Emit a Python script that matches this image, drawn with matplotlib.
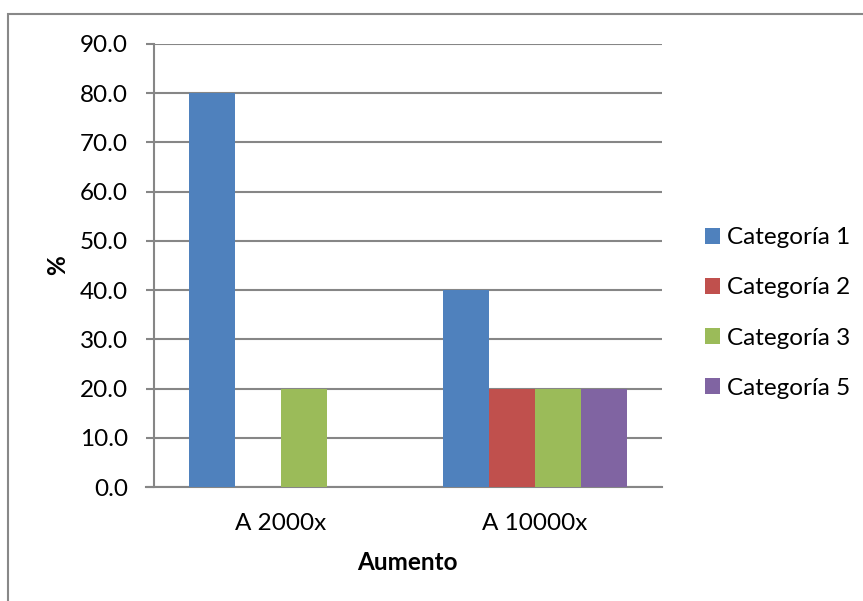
import matplotlib
matplotlib.use("Agg")
import matplotlib.pyplot as plt
from matplotlib.patches import Patch, Rectangle
import numpy as np

plt.rcParams['font.family'] = ['Lato', 'DejaVu Sans']

groups = ["A 2000x", "A 10000x"]
series_names = ["Categoría 1", "Categoría 2", "Categoría 3", "Categoría 5"]
cat1 = [80.0, 40.0]
cat2 = [0.0, 20.0]
cat3 = [20.0, 20.0]
cat5 = [0.0, 20.0]
series_values = [cat1, cat2, cat3, cat5]
colors = ["#4F81BD", "#C0504D", "#9BBB59", "#8064A2"]
yticks = [0, 10, 20, 30, 40, 50, 60, 70, 80, 90]

FS = 17.5

fig = plt.figure(figsize=(8.63, 6.01), dpi=100)
fig.patch.set_facecolor("white")

# outer chart frame (left and top edges visible)
fig.add_artist(Rectangle((8 / 863, -0.1), 1.2, (601 - 14) / 601 + 0.1,
                         transform=fig.transFigure, fill=False,
                         edgecolor="#888888", linewidth=1.5))

ax = fig.add_axes([154 / 863, 114 / 601, 508 / 863, 443 / 601])

n = len(series_values)
gap = 1.5
width = 1.0 / (n + gap)
x = np.arange(len(groups))
for i, (vals, c) in enumerate(zip(series_values, colors)):
    offs = (i - (n - 1) / 2) * width
    ax.bar(x + offs, vals, width=width, color=c, zorder=3)

ax.set_xlim(-0.5, len(groups) - 0.5)
ax.set_ylim(0, 90)
ax.set_yticks(yticks)
ax.set_yticklabels([f"{v:.1f}" for v in yticks], fontsize=FS)
ax.set_xticks(x)
ax.set_xticklabels(groups, fontsize=FS)

ax.yaxis.grid(True, color="#868686", linewidth=1.5, zorder=0)
ax.set_axisbelow(True)
for s in ["top", "right"]:
    ax.spines[s].set_visible(False)
for s in ["left", "bottom"]:
    ax.spines[s].set_color("#868686")
    ax.spines[s].set_linewidth(1.5)
ax.spines["bottom"].set_bounds(-0.5 - 8 / 254, len(groups) - 0.5)

ax.tick_params(axis="y", direction="out", length=8 * 0.72, width=1.5,
               color="#868686", pad=13)
ax.tick_params(axis="x", length=0, pad=19)

fig.text(58 / 863, 1 - 265 / 601, "%", rotation=90, fontsize=FS,
         fontweight="bold", ha="center", va="center")
fig.text(407 / 863, 1 - 562 / 601, "Aumento", fontsize=FS,
         fontweight="bold", ha="center", va="center")

handles = [Patch(facecolor=c, edgecolor="none") for c in colors]
fig.legend(handles, series_names, loc="center left",
           bbox_to_anchor=(705 / 863, 1 - 313 / 601), frameon=False,
           fontsize=FS, handlelength=0.62, handleheight=0.62,
           handletextpad=0.29, labelspacing=1.2, borderpad=0,
           borderaxespad=0)

fig.savefig("out.png", dpi=100, facecolor="white")
